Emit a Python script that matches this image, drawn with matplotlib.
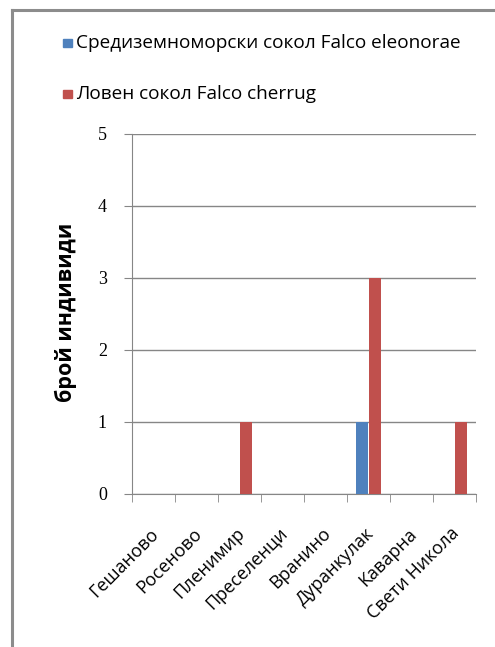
import numpy as np
import matplotlib.pyplot as plt
from matplotlib.lines import Line2D
from matplotlib.patches import Rectangle
from matplotlib.transforms import ScaledTranslation

# Данни
места = ['Гешаново', 'Росеново', 'Пленимир', 'Преселенци', 'Вранино',
         'Дуранкулак', 'Каварна', 'Свети Никола']
eleonorae = [0, 0, 0, 0, 0, 1, 0, 0]
cherrug = [0, 0, 1, 0, 0, 3, 0, 1]
серии = ['Средиземноморски сокол Falco eleonorae', 'Ловен сокол Falco cherrug']
цветове = ['#4F81BD', '#C0504D']

fig = plt.figure(figsize=(4.95, 6.47), dpi=100)
W, H = 495, 647

# рамка на диаграмата (горна и лява линия)
fig.add_artist(Line2D([12 / W, 1], [1 - 10 / H, 1 - 10 / H], color='#8c8c8c', lw=2.2))
fig.add_artist(Line2D([12 / W, 12 / W], [0, 1 - 10 / H], color='#8c8c8c', lw=2.2))

ax = fig.add_axes([132 / W, 1 - 494 / H, 344 / W, 360 / H])

x = np.arange(len(места))
w = 1 / 3.5
ax.bar(x - w / 2, eleonorae, w, color=цветове[0], zorder=3)
ax.bar(x + w / 2, cherrug, w, color=цветове[1], zorder=3)

ax.set_xlim(-0.5, len(места) - 0.5)
ax.set_ylim(0, 5)
ax.set_yticks(range(6))
ax.yaxis.grid(True, color='#868686', lw=1, zorder=0)
for s in ['top', 'right']:
    ax.spines[s].set_visible(False)
for s in ['left', 'bottom']:
    ax.spines[s].set_color('#868686')

ax.set_xticks(np.arange(len(места) + 1) - 0.5, minor=True)
ax.set_xticks(x)
ax.set_xticklabels(места, rotation=45, ha='right', va='top', rotation_mode='anchor',
                   family='Open Sans', fontsize=13)
ax.tick_params(axis='x', which='major', length=0, pad=22)
ax.tick_params(axis='x', which='minor', length=6, color='#868686')
ax.tick_params(axis='y', length=6, color='#868686', labelsize=13, pad=12)
off = ScaledTranslation(-4 / 100, 0, fig.dpi_scale_trans)
for t in ax.get_xticklabels():
    t.set_transform(t.get_transform() + off)
for t in ax.get_yticklabels():
    t.set_family('Liberation Serif')

fig.text(66 / W, 1 - 312 / H, 'брой индивиди', rotation=90, ha='center', va='center',
         family='Open Sans', fontweight='bold', fontsize=15.5)

# легенда
for i, (name, c) in enumerate(zip(серии, цветове)):
    yy = [43, 94][i]
    fig.add_artist(Rectangle((63 / W, 1 - (yy + 4) / H), 9 / W, 8 / H, color=c,
                             transform=fig.transFigure))
    fig.text(76 / W, 1 - yy / H, name, ha='left', va='center', family='Open Sans', fontsize=13.7)

fig.savefig('out.png', dpi=100)
